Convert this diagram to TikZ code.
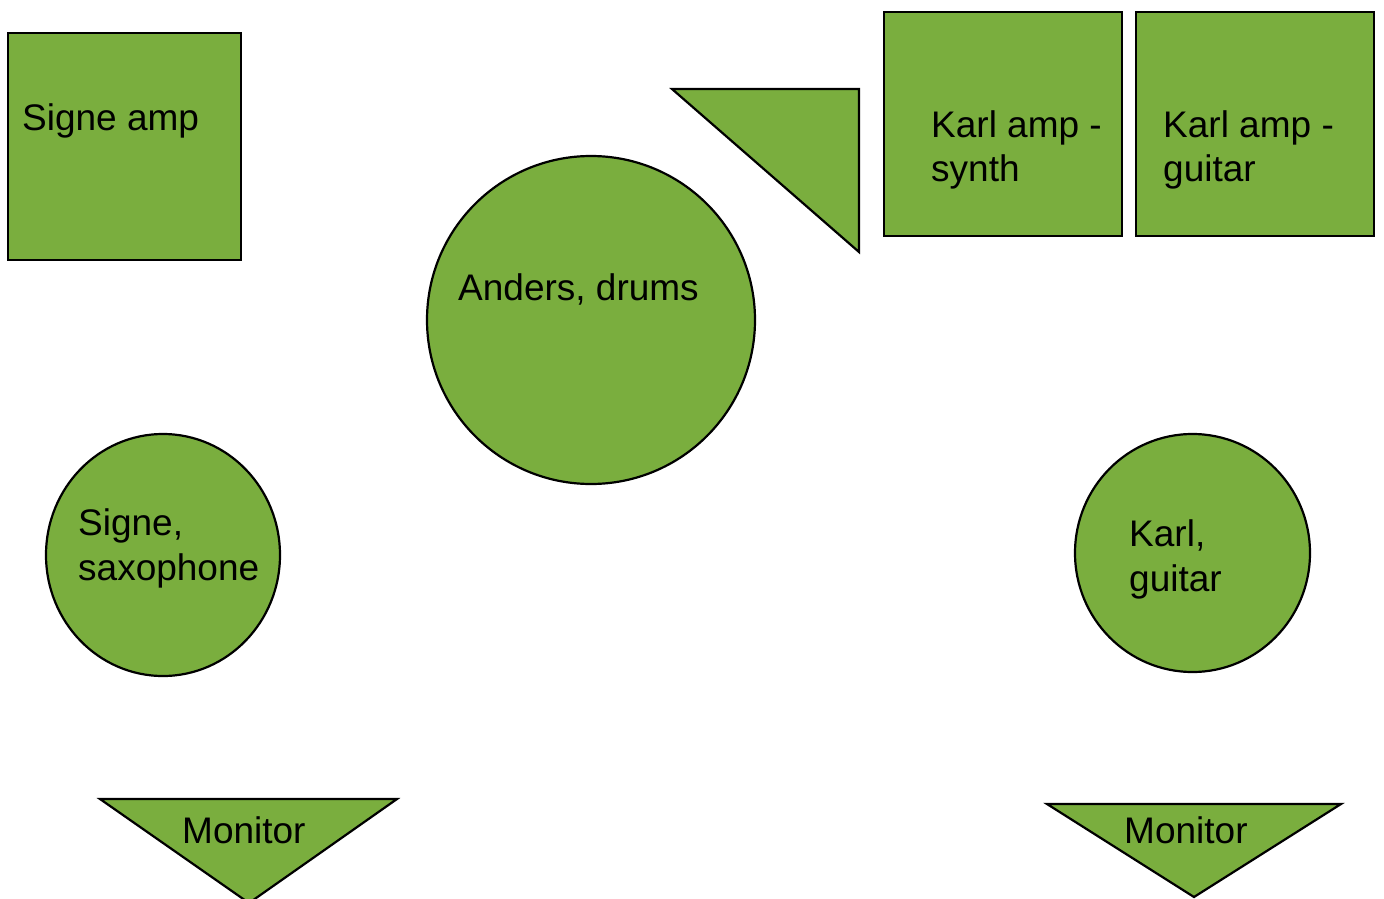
\documentclass[tikz,border=0pt]{standalone}
\usepackage{fontspec}
\usetikzlibrary{shapes.geometric}
\setmainfont{Liberation Sans}
\definecolor{leaf}{RGB}{122,174,62}
\begin{document}
\begin{tikzpicture}[x=1pt,y=-1pt,
  shp/.style={draw=black,fill=leaf,line width=2.2pt,inner sep=0pt},
  lbl/.style={anchor=base west,inner sep=0pt,font=\fontsize{37}{44}\selectfont,text=black}]
\useasboundingbox (0,0) rectangle (1384,899);
% boxes
\node[shp,rectangle,minimum width=233pt,minimum height=227pt] (sampbox) at (124.5,146.5) {};
\node[shp,rectangle,minimum width=238pt,minimum height=224pt] (ksynthbox) at (1003,124) {};
\node[shp,rectangle,minimum width=238pt,minimum height=224pt] (kguitbox) at (1255,124) {};
% circles
\node[shp,circle,minimum size=328pt] (anders) at (591,320) {};
\node[shp,ellipse,minimum width=234pt,minimum height=242pt] (signe) at (163,555) {};
\node[shp,ellipse,minimum width=235pt,minimum height=238pt] (karl) at (1192.5,553) {};
% triangles
\draw[shp,line join=miter] (672,89) -- (859,89) -- (859,252) -- cycle;
\draw[shp,line join=miter] (100,799) -- (397,799) -- (249,903) -- cycle;
\draw[shp,line join=miter] (1047,804) -- (1341,804) -- (1194,897) -- cycle;
% labels
\node[lbl] (t1) at (22,130) {Signe amp};
\node[lbl] (t2) at (458,300) {Anders, drums};
\node[lbl] (t3a) at (931,137) {Karl amp -};
\node[lbl] (t3b) at (931,181) {synth};
\node[lbl] (t4a) at (1163,137) {Karl amp -};
\node[lbl] (t4b) at (1163,181) {guitar};
\node[lbl] (t5a) at (78,535) {Signe,};
\node[lbl] (t5b) at (78,580) {saxophone};
\node[lbl] (t6a) at (1129,546) {Karl,};
\node[lbl] (t6b) at (1129,591) {guitar};
\node[lbl] (t7) at (182,843) {Monitor};
\node[lbl] (t8) at (1124,843) {Monitor};
\end{tikzpicture}
\end{document}
